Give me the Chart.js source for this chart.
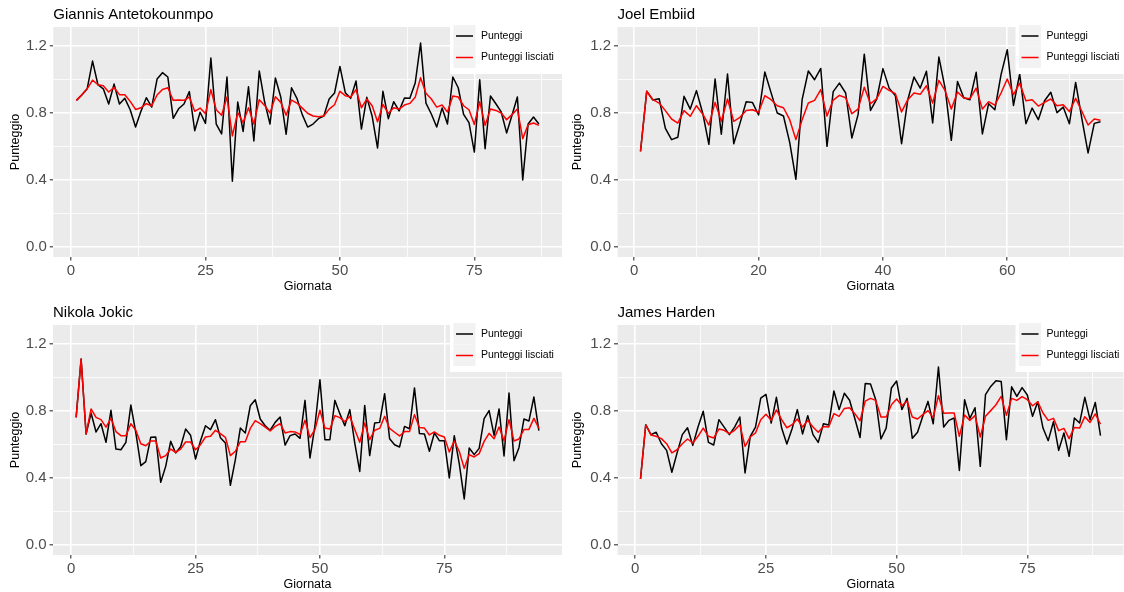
<!DOCTYPE html>
<html>
<head>
<meta charset="utf-8">
<script src="https://cdn.jsdelivr.net/npm/chart.js@4"></script>
<style>
  body { margin: 0; background: #fff; }
  #wrap { position: relative; width: 1124px; height: 592px; overflow: hidden; }
  .panel { position: absolute; }
</style>
</head>
<body>
<div id="wrap">
  <div class="panel" style="left:0;top:0"><canvas id="giannis" width="562" height="294"></canvas></div>
  <div class="panel" style="left:562px;top:0"><canvas id="embiid" width="562" height="294"></canvas></div>
  <div class="panel" style="left:0;top:298px"><canvas id="jokic" width="562" height="294"></canvas></div>
  <div class="panel" style="left:562px;top:298px"><canvas id="harden" width="562" height="294"></canvas></div>
</div>
<script>
// Punteggi per giornata (nero) e versione lisciata (rosso)
const giannisScores = [0.873, 0.905, 0.942, 1.107, 0.966, 0.942, 0.851, 0.970, 0.851, 0.885,
  0.817, 0.714, 0.808, 0.889, 0.833, 1.000, 1.038, 1.012, 0.766, 0.823,
  0.851, 0.925, 0.692, 0.802, 0.736, 1.125, 0.732, 0.673, 1.012, 0.391,
  0.863, 0.688, 0.954, 0.631, 1.048, 0.863, 0.732, 1.006, 0.893, 0.671,
  0.948, 0.885, 0.788, 0.714, 0.732, 0.764, 0.780, 0.881, 0.917, 1.075,
  0.919, 0.885, 0.988, 0.702, 0.891, 0.778, 0.589, 0.927, 0.764, 0.865,
  0.810, 0.887, 0.885, 0.976, 1.214, 0.857, 0.792, 0.714, 0.827, 0.732,
  1.012, 0.948, 0.790, 0.740, 0.565, 0.996, 0.585, 0.899, 0.853, 0.804,
  0.679, 0.784, 0.893, 0.399, 0.732, 0.774, 0.732];
const giannisSmooth = [0.873, 0.907, 0.942, 0.994, 0.966, 0.960, 0.923, 0.950, 0.907, 0.907,
  0.867, 0.819, 0.829, 0.853, 0.841, 0.905, 0.938, 0.948, 0.873, 0.875,
  0.873, 0.893, 0.808, 0.827, 0.794, 0.937, 0.817, 0.784, 0.893, 0.661,
  0.800, 0.740, 0.829, 0.732, 0.877, 0.843, 0.798, 0.895, 0.861, 0.784,
  0.875, 0.857, 0.827, 0.796, 0.780, 0.776, 0.780, 0.821, 0.847, 0.927,
  0.901, 0.893, 0.937, 0.829, 0.881, 0.841, 0.746, 0.849, 0.796, 0.829,
  0.821, 0.845, 0.855, 0.891, 1.008, 0.915, 0.881, 0.833, 0.845, 0.804,
  0.899, 0.893, 0.841, 0.817, 0.730, 0.865, 0.724, 0.821, 0.813, 0.798,
  0.758, 0.788, 0.821, 0.645, 0.728, 0.738, 0.724];

const embiidScores = [0.569, 0.927, 0.875, 0.883, 0.706, 0.639, 0.653, 0.897, 0.821, 0.931,
  0.798, 0.611, 1.000, 0.671, 1.030, 0.615, 0.736, 0.865, 0.861, 0.786,
  1.042, 0.919, 0.798, 0.780, 0.623, 0.403, 0.877, 1.048, 0.996, 1.063,
  0.599, 0.925, 0.976, 0.917, 0.649, 0.788, 1.148, 0.813, 0.881, 1.062,
  0.946, 0.901, 0.615, 0.877, 1.012, 0.946, 1.046, 0.738, 1.131, 0.946,
  0.635, 0.986, 0.889, 0.877, 1.040, 0.673, 0.853, 0.817, 1.026, 1.175,
  0.843, 1.030, 0.734, 0.827, 0.758, 0.871, 0.921, 0.800, 0.833, 0.734,
  0.980, 0.764, 0.560, 0.736, 0.746];
const embiidSmooth = [0.569, 0.927, 0.877, 0.857, 0.812, 0.762, 0.738, 0.812, 0.778, 0.841,
  0.792, 0.726, 0.861, 0.748, 0.881, 0.748, 0.772, 0.813, 0.817, 0.802,
  0.901, 0.877, 0.841, 0.829, 0.758, 0.639, 0.758, 0.857, 0.873, 0.937,
  0.780, 0.875, 0.903, 0.889, 0.794, 0.821, 0.951, 0.853, 0.883, 0.956,
  0.933, 0.913, 0.804, 0.877, 0.917, 0.909, 0.960, 0.857, 0.992, 0.931,
  0.821, 0.923, 0.887, 0.883, 0.946, 0.821, 0.865, 0.845, 0.917, 1.000,
  0.907, 0.976, 0.871, 0.877, 0.839, 0.861, 0.881, 0.841, 0.847, 0.806,
  0.885, 0.808, 0.726, 0.762, 0.754];

const jokicScores = [0.760, 1.107, 0.661, 0.786, 0.673, 0.722, 0.611, 0.802, 0.571, 0.567,
  0.611, 0.833, 0.667, 0.472, 0.496, 0.641, 0.643, 0.373, 0.468, 0.617,
  0.548, 0.585, 0.690, 0.653, 0.512, 0.621, 0.710, 0.687, 0.746, 0.639,
  0.607, 0.355, 0.508, 0.696, 0.667, 0.829, 0.865, 0.750, 0.710, 0.683,
  0.730, 0.762, 0.595, 0.651, 0.661, 0.635, 0.861, 0.518, 0.710, 0.984,
  0.627, 0.627, 0.861, 0.782, 0.710, 0.806, 0.607, 0.438, 0.831, 0.532,
  0.726, 0.730, 0.901, 0.633, 0.597, 0.583, 0.706, 0.692, 0.935, 0.663,
  0.661, 0.558, 0.667, 0.621, 0.621, 0.399, 0.651, 0.484, 0.274, 0.577,
  0.538, 0.575, 0.752, 0.800, 0.653, 0.810, 0.530, 0.905, 0.502, 0.579,
  0.750, 0.738, 0.881, 0.681];
const jokicSmooth = [0.760, 1.107, 0.661, 0.810, 0.760, 0.746, 0.702, 0.754, 0.675, 0.651,
  0.651, 0.722, 0.683, 0.603, 0.591, 0.619, 0.619, 0.518, 0.532, 0.571,
  0.552, 0.571, 0.613, 0.613, 0.567, 0.597, 0.643, 0.647, 0.683, 0.663,
  0.641, 0.532, 0.558, 0.615, 0.615, 0.694, 0.740, 0.722, 0.702, 0.679,
  0.706, 0.722, 0.667, 0.675, 0.673, 0.658, 0.742, 0.640, 0.687, 0.802,
  0.696, 0.690, 0.770, 0.758, 0.734, 0.766, 0.687, 0.611, 0.726, 0.627,
  0.683, 0.694, 0.766, 0.694, 0.671, 0.649, 0.675, 0.675, 0.776, 0.700,
  0.696, 0.655, 0.673, 0.653, 0.643, 0.554, 0.619, 0.558, 0.456, 0.538,
  0.524, 0.544, 0.617, 0.665, 0.633, 0.702, 0.621, 0.746, 0.619, 0.631,
  0.687, 0.688, 0.754, 0.696];

const hardenScores = [0.393, 0.716, 0.657, 0.671, 0.603, 0.563, 0.433, 0.548, 0.657, 0.698,
  0.593, 0.702, 0.796, 0.611, 0.595, 0.746, 0.702, 0.657, 0.702, 0.762,
  0.429, 0.647, 0.702, 0.875, 0.897, 0.726, 0.879, 0.696, 0.601, 0.692,
  0.806, 0.661, 0.770, 0.657, 0.611, 0.722, 0.714, 0.917, 0.806, 0.903,
  0.862, 0.753, 0.640, 0.962, 0.958, 0.865, 0.631, 0.696, 0.935, 0.976,
  0.806, 0.873, 0.635, 0.671, 0.766, 0.855, 0.722, 1.060, 0.702, 0.742,
  0.756, 0.444, 0.865, 0.754, 0.817, 0.468, 0.895, 0.944, 0.978, 0.974,
  0.627, 0.942, 0.885, 0.937, 0.893, 0.766, 0.853, 0.696, 0.621, 0.734,
  0.563, 0.667, 0.528, 0.756, 0.726, 0.879, 0.746, 0.849, 0.651];
const hardenSmooth = [0.393, 0.716, 0.655, 0.647, 0.633, 0.603, 0.548, 0.567, 0.603, 0.631,
  0.607, 0.647, 0.696, 0.647, 0.637, 0.690, 0.683, 0.663, 0.683, 0.716,
  0.587, 0.643, 0.667, 0.746, 0.778, 0.742, 0.804, 0.746, 0.698, 0.716,
  0.750, 0.702, 0.742, 0.702, 0.671, 0.706, 0.702, 0.782, 0.766, 0.813,
  0.817, 0.782, 0.740, 0.857, 0.873, 0.861, 0.762, 0.762, 0.835, 0.869,
  0.829, 0.857, 0.762, 0.750, 0.776, 0.800, 0.758, 0.889, 0.784, 0.786,
  0.786, 0.647, 0.774, 0.742, 0.770, 0.643, 0.766, 0.800, 0.835, 0.885,
  0.772, 0.873, 0.861, 0.883, 0.865, 0.829, 0.853, 0.786, 0.742, 0.754,
  0.681, 0.694, 0.633, 0.700, 0.696, 0.764, 0.730, 0.780, 0.720];

// assi
const yMajorTicks = [0, 0.4, 0.8, 1.2];
const yMinorTicks = [0.2, 0.6, 1.0];
const xMajorQuarter = [0, 25, 50, 75];
const xMinorQuarter = [12.5, 37.5, 62.5, 87.5];
const xMajorTwenty = [0, 20, 40, 60];
const xMinorTwenty = [10, 30, 50, 70];
const seriesLabels = ['Punteggi', 'Punteggi lisciati'];

Chart.defaults.font.family = '"Liberation Sans", Arial, sans-serif';

const panelBg = {
  id: 'panelBg',
  beforeDraw(chart) {
    const { ctx, chartArea: a } = chart;
    ctx.save();
    ctx.fillStyle = '#ebebeb';
    ctx.fillRect(a.left, a.top, a.right - a.left, a.bottom - a.top);
    ctx.restore();
  }
};

// titolo sopra il pannello e legenda in alto a destra
const panelDecor = {
  id: 'panelDecor',
  afterDraw(chart, args, opts) {
    const { ctx, chartArea: a } = chart;
    ctx.save();
    ctx.fillStyle = '#000';
    ctx.font = '15px "Liberation Sans", Arial, sans-serif';
    ctx.textBaseline = 'alphabetic';
    ctx.textAlign = 'left';
    ctx.fillText(opts.title, a.left, 18.5);

    const lx = a.right - opts.legendShift;
    ctx.fillStyle = '#fff';
    ctx.fillRect(lx, a.top, 113, 47);
    const colors = ['#000', '#ff0000'];
    seriesLabels.forEach((lbl, i) => {
      const ky = 25 + i * 21.5;
      ctx.fillStyle = '#f2f2f2';
      ctx.fillRect(lx + 3.5, ky, 22, 21.5);
      ctx.strokeStyle = colors[i];
      ctx.lineWidth = 1.5;
      ctx.beginPath();
      ctx.moveTo(lx + 6, ky + 11);
      ctx.lineTo(lx + 23, ky + 11);
      ctx.stroke();
      ctx.fillStyle = '#000';
      ctx.font = '10.5px "Liberation Sans", Arial, sans-serif';
      ctx.textBaseline = 'middle';
      ctx.fillText(lbl, lx + 31, ky + 11);
    });
    ctx.restore();
  }
};

function drawPlayerPanel(targetId, title, scores, smooth, xMin, xMax, xMajor, xMinor, yWidth, padRight, legendShift) {
  const ctx = document.getElementById(targetId).getContext('2d');
  const xTicks = [...xMajor, ...xMinor].sort((a, b) => a - b);
  const yTicks = [...yMajorTicks, ...yMinorTicks].sort((a, b) => a - b);
  const isXMajor = v => xMajor.includes(v);
  const isYMajor = v => yMajorTicks.some(t => Math.abs(t - v) < 1e-6);
  const toPoints = arr => arr.map((v, i) => ({ x: i + 1, y: v }));

  return new Chart(ctx, {
    type: 'line',
    data: {
      datasets: [
        {
          label: seriesLabels[0],
          data: toPoints(scores),
          borderColor: '#000',
          borderWidth: 1.5,
          pointRadius: 0,
          borderJoinStyle: 'round',
          order: 1
        },
        {
          label: seriesLabels[1],
          data: toPoints(smooth),
          borderColor: '#ff0000',
          borderWidth: 1.5,
          pointRadius: 0,
          borderJoinStyle: 'round',
          order: 0
        }
      ]
    },
    options: {
      responsive: false,
      animation: false,
      devicePixelRatio: 1,
      layout: { padding: { top: 27, left: 0, right: padRight, bottom: 0 } },
      plugins: {
        legend: { display: false },
        tooltip: { enabled: false },
        title: { display: false },
        panelDecor: { title, legendShift }
      },
      scales: {
        x: {
          type: 'linear',
          min: xMin,
          max: xMax,
          afterBuildTicks: s => { s.ticks = xTicks.map(v => ({ value: v })); },
          afterFit: s => { s.height = 37; },
          border: { display: false },
          grid: {
            color: '#fff',
            lineWidth: c => (isXMajor(c.tick.value) ? 1.6 : 0.8),
            tickLength: 3.5,
            tickWidth: 1.1,
            tickColor: c => (isXMajor(c.tick.value) ? '#333' : 'rgba(0,0,0,0)')
          },
          ticks: {
            autoSkip: false,
            maxRotation: 0,
            padding: 1,
            color: '#4d4d4d',
            font: { size: 15 },
            callback: v => (isXMajor(v) ? String(v) : '')
          },
          title: {
            display: true,
            text: 'Giornata',
            color: '#000',
            font: { size: 12.5 },
            padding: { top: 0, bottom: 0 }
          }
        },
        y: {
          min: -0.06,
          max: 1.31,
          afterBuildTicks: s => { s.ticks = yTicks.map(v => ({ value: v })); },
          afterFit: s => { s.width = yWidth; },
          border: { display: false },
          grid: {
            color: '#fff',
            lineWidth: c => (isYMajor(c.tick.value) ? 1.6 : 0.8),
            tickLength: 3.5,
            tickWidth: 1.1,
            tickColor: c => (isYMajor(c.tick.value) ? '#333' : 'rgba(0,0,0,0)')
          },
          ticks: {
            autoSkip: false,
            padding: 3,
            color: '#4d4d4d',
            font: { size: 15 },
            callback: v => (isYMajor(v) ? v.toFixed(1) : '')
          },
          title: {
            display: true,
            text: 'Punteggio',
            color: '#000',
            font: { size: 12.5 },
            padding: { top: 7.7, bottom: 0 }
          }
        }
      }
    },
    plugins: [panelBg, panelDecor]
  });
}

drawPlayerPanel('giannis', 'Giannis Antetokounmpo', giannisScores, giannisSmooth, -3.3, 91.3, xMajorQuarter, xMinorQuarter, 53.3, 0, 112);
drawPlayerPanel('embiid', 'Joel Embiid', embiidScores, embiidSmooth, -2.7, 78.7, xMajorTwenty, xMinorTwenty, 55.5, 0.5, 108);
drawPlayerPanel('jokic', 'Nikola Jokic', jokicScores, jokicSmooth, -3.65, 98.65, xMajorQuarter, xMinorQuarter, 53, 0, 112);
drawPlayerPanel('harden', 'James Harden', hardenScores, hardenSmooth, -3.4, 93.4, xMajorQuarter, xMinorQuarter, 55.5, 0.5, 108);
</script>
</body>
</html>
